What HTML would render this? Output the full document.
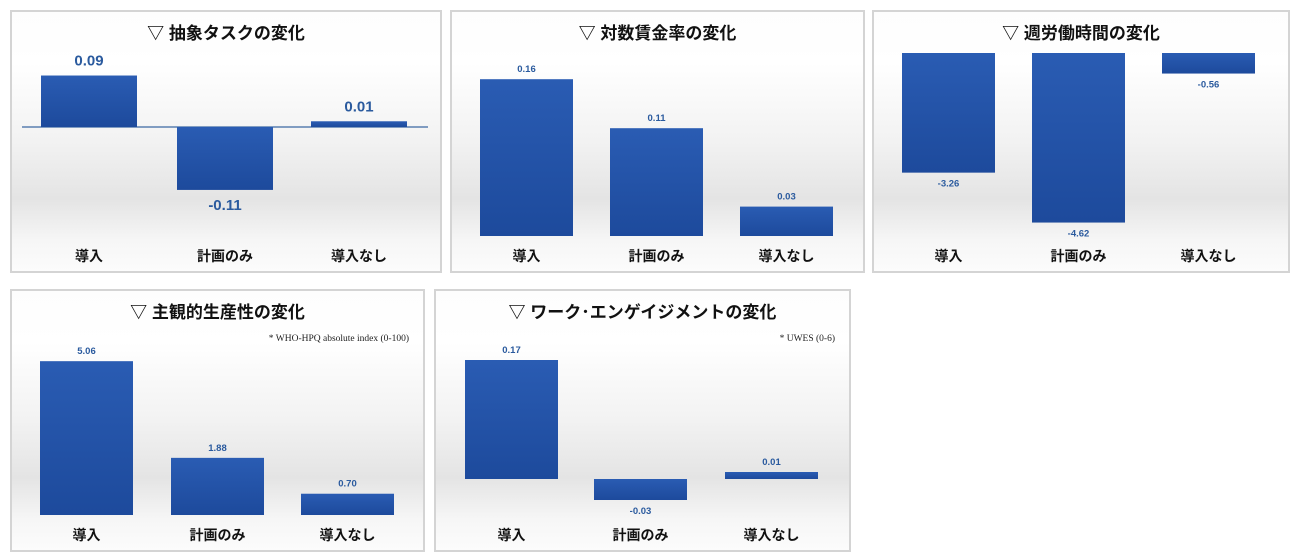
<!DOCTYPE html>
<html><head><meta charset="utf-8">
<style>
html,body{margin:0;padding:0;background:#fff;width:1300px;height:560px;overflow:hidden;font-family:"Liberation Sans","Noto Sans CJK JP",sans-serif;}
.panel{position:absolute;border:2px solid #d6d6d6;box-sizing:border-box;background:linear-gradient(#fbfbfb 0%,#ffffff 15%,#f4f4f4 45%,#e6e6e6 70%,#f7f7f7 85%,#fcfcfc 100%);}
svg{position:absolute;left:0;top:0;}
</style></head><body>
<svg id="chart" width="1300" height="560"></svg>
<script>
const categories = ["導入","計画のみ","導入なし"];
const titles = ["▽ 抽象タスクの変化","▽ 対数賃金率の変化","▽ 週労働時間の変化","▽ 主観的生産性の変化","▽ ワーク･エンゲイジメントの変化"];
const values1 = [0.09,-0.11,0.01];
const values2 = [0.16,0.11,0.03];
const values3 = [-3.26,-4.62,-0.56];
const values4 = [5.06,1.88,0.70];
const values5 = [0.17,-0.03,0.01];
const labels1 = ["0.09","-0.11","0.01"];
const labels2 = ["0.16","0.11","0.03"];
const labels3 = ["-3.26","-4.62","-0.56"];
const labels4 = ["5.06","1.88","0.70"];
const labels5 = ["0.17","-0.03","0.01"];
const notes = ["","","","* WHO-HPQ absolute index (0-100)","* UWES (0-6)"];

const NS="http://www.w3.org/2000/svg";
const svg=document.getElementById('chart');
const panels=[
 {x:10,y:10,w:432,h:263,base:127,scale:572,bx:[41,177,311],bw:96,big:true,axis:true,vals:values1,labs:labels1},
 {x:450,y:10,w:415,h:263,base:236,scale:980,bx:[480,610,740],bw:93,vals:values2,labs:labels2},
 {x:872,y:10,w:418,h:263,base:53,scale:36.7,bx:[902,1032,1162],bw:93,vals:values3,labs:labels3},
 {x:10,y:289,w:415,h:263,base:515,scale:30.4,bx:[40,171,301],bw:93,vals:values4,labs:labels4},
 {x:434,y:289,w:417,h:263,base:479,scale:700,bx:[465,594,725],bw:93,vals:values5,labs:labels5}
];
function mk(tag,attrs,parent){const e=document.createElementNS(NS,tag);for(const k in attrs)e.setAttribute(k,attrs[k]);(parent||svg).appendChild(e);return e;}
const defs=mk('defs',{});
const g=mk('linearGradient',{id:'barg',x1:0,y1:0,x2:0,y2:1},defs);
mk('stop',{offset:'0','stop-color':'#2a5cb3'},g);
mk('stop',{offset:'1','stop-color':'#1d4a9c'},g);
const bg=mk('linearGradient',{id:'bgg',x1:0,y1:0,x2:0,y2:1},defs);
[['0','#fdfdfd'],['0.2','#ffffff'],['0.5','#f2f2f2'],['0.72','#e4e4e4'],['0.88','#f6f6f6'],['1','#fcfcfc']].forEach(s=>mk('stop',{offset:s[0],'stop-color':s[1]},bg));

panels.forEach((p,i)=>{
  const grp=mk('g',{});
  
  
  const r=mk('rect',{x:p.x+1,y:p.y+1,width:p.w-2,height:p.h-2,fill:'url(#bgg)',stroke:'#d4d4d4','stroke-width':2},grp);
  
  
  const cx=p.x+p.w/2;
  const t=mk('text',{x:cx,y:p.y+29,'text-anchor':'middle','font-size':17,'font-weight':'bold',fill:'#111'},grp);
  t.textContent=titles[i];
  
  
  if(notes[i]){
    const n=mk('text',{x:p.x+p.w-16,y:p.y+52,'text-anchor':'end','font-size':9.5,fill:'#222','font-family':'"Liberation Serif",serif'},grp);
    n.textContent=notes[i];
    
    
  }
  if(p.axis){
    const l=mk('line',{x1:p.x+12,x2:p.x+p.w-14,y1:p.base,y2:p.base,stroke:'#5a7fb0','stroke-width':1.5},grp);
    
    
  }
  p.vals.forEach((v,j)=>{
    const h=Math.abs(v)*p.scale;
    const y=v>=0?p.base-h:p.base;
    const x=p.bx[j];
    const b=mk('rect',{x:x,y:y,width:p.bw,height:Math.max(h,2),fill:'url(#barg)'},grp);
    
    
    const fs=p.big?15:9.5;
    const ly=v>=0?y-(p.big?10:7):y+h+(p.big?20:14);
    const lt=mk('text',{x:x+p.bw/2,y:ly,'text-anchor':'middle','font-size':fs,'font-weight':'bold',fill:'#2a5a9e'},grp);
    lt.textContent=p.labs[j];
    
    
    const ct=mk('text',{x:x+p.bw/2,y:p.y+251,'text-anchor':'middle','font-size':14,'font-weight':'bold',fill:'#111'},grp);
    ct.textContent=categories[j];
    
    
  });
});
</script>
</body></html>
